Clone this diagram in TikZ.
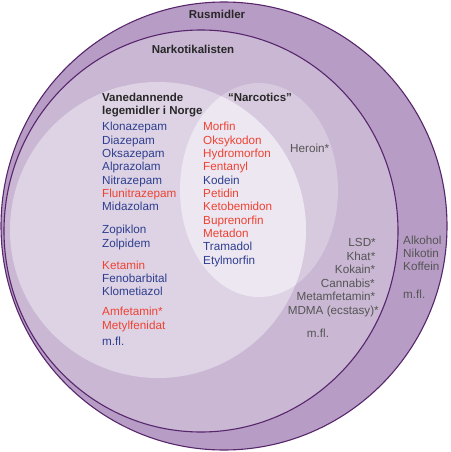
\documentclass[tikz,border=0pt]{standalone}
\usepackage{fontspec}
\setmainfont{Liberation Sans}
\usetikzlibrary{positioning}
\definecolor{rusfill}{RGB}{183,156,197}
\definecolor{narkfill}{RGB}{201,183,211}
\definecolor{vanfill}{RGB}{222,211,229}
\definecolor{narcfill}{RGB}{215,201,222}
\definecolor{lensfill}{RGB}{237,231,241}
\definecolor{rim}{RGB}{88,38,108}
\definecolor{drugblue}{RGB}{46,62,142}
\definecolor{drugred}{RGB}{238,66,50}
\definecolor{druggray}{RGB}{85,85,85}
\definecolor{titlegray}{RGB}{40,40,40}

\begin{document}
\begin{tikzpicture}[x=1pt,y=-1pt,
  label/.style={inner sep=0pt,text height=8pt,text depth=0pt,
    font=\fontsize{11.7}{13.4}\selectfont},
  title/.style={label,font=\bfseries\fontsize{11.5}{13.4}\selectfont,text=titlegray},
  drug/.style={label,text=druggray}]
  \useasboundingbox (0,0) rectangle (450,452);

  % the sets
  \draw[line width=1.1pt,draw=rim,fill=rusfill] (224,226) ellipse[x radius=223,y radius=224];
  \draw[line width=1.1pt,draw=rim,fill=narkfill] (201,231) ellipse[x radius=197,y radius=201];
  \fill[narcfill] (259,190) ellipse[x radius=79,y radius=107];
  \fill[vanfill] (158,230) circle[radius=148];
  \begin{scope}
    \clip (259,190) ellipse[x radius=79,y radius=107];
    \fill[lensfill] (158,230) circle[radius=148];
  \end{scope}

  % titles
  \node[title] (rus) at (217,15) {Rusmidler};
  \node[title] (nark) at (193,49) {Narkotikalisten};
  \node[title,anchor=west] (van) at (102,97) {Vanedannende};
  \node[title,anchor=west] (vanb) at (102,110) {legemidler i Norge};
  \node[title] (narc) at (260,97) {“Narcotics”};

  % vanedannende legemidler
  \foreach \y/\col/\drug [count=\i] in {126.7/drugblue/Klonazepam,140/drugblue/Diazepam,
      153.3/drugblue/Oksazepam,166.7/drugblue/Alprazolam,180/drugblue/Nitrazepam,
      193.3/drugred/Flunitrazepam,206.7/drugblue/Midazolam,229.5/drugblue/Zopiklon,
      243/drugblue/Zolpidem,265/drugred/Ketamin,278.3/drugblue/Fenobarbital,
      291.7/drugblue/Klometiazol,311.7/drugred/Amfetamin*,325.5/drugred/Metylfenidat,
      341.7/drugblue/m.fl.}
    \node[drug,anchor=west,text=\col] (van\i) at (102,\y) {\drug};

  % narcotics
  \foreach \col/\drug [count=\i] in {drugred/Morfin,drugred/Oksykodon,drugred/Hydromorfon,
      drugred/Fentanyl,drugblue/Kodein,drugred/Petidin,drugred/Ketobemidon,
      drugred/Buprenorfin,drugred/Metadon,drugblue/Tramadol,drugblue/Etylmorfin}
    \node[drug,anchor=west,text=\col] (narc\i) at (203,{113.4+13.33*\i}) {\drug};
  \node[drug,anchor=west] (heroin) at (290,148) {Heroin*};

  % narkotikalisten
  \foreach \x/\y/\drug [count=\i] in {376/242.7/LSD*,375.5/256/Khat*,375.5/269.5/Kokain*,
      375/283/Cannabis*,375.5/296.4/Metamfetamin*,379/310/MDMA (ecstasy)*}
    \node[drug,anchor=east] (nark\i) at (\x,\y) {\drug};
  \node[drug] (narkmfl) at (318,333) {m.fl.};

  % rusmidler
  \foreach \y/\drug [count=\i] in {240/Alkohol,253.3/Nikotin,266.7/Koffein,294/m.fl.}
    \node[drug,anchor=west] (rus\i) at (403,\y) {\drug};
\end{tikzpicture}
\end{document}
